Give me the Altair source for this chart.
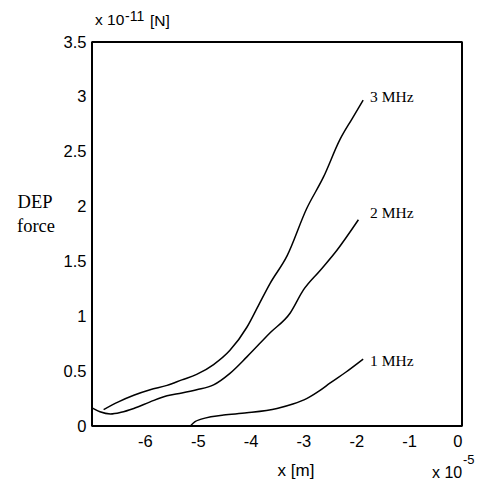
import altair as alt
import pandas as pd

# Dielectrophoretic force along x for three excitation frequencies
x_3mhz = [-6.78, -6.5, -6.21, -5.9, -5.58, -5.3, -5.02, -4.70, -4.39, -4.07, -3.85,
          -3.63, -3.31, -2.94, -2.62, -2.31, -2.08, -1.87]
f_3mhz = [0.15, 0.22, 0.28, 0.33, 0.37, 0.42, 0.47, 0.56, 0.69, 0.90, 1.10,
          1.30, 1.55, 1.98, 2.27, 2.61, 2.80, 2.97]

x_2mhz = [-7.0, -6.85, -6.65, -6.45, -6.21, -5.9, -5.58, -5.3, -5.02, -4.70, -4.39,
          -4.07, -3.63, -3.25, -3.0, -2.68, -2.37, -1.96]
f_2mhz = [0.165, 0.13, 0.11, 0.125, 0.16, 0.22, 0.275, 0.30, 0.33, 0.375, 0.48,
          0.63, 0.85, 1.03, 1.24, 1.42, 1.60, 1.88]

x_1mhz = [-5.14, -5.05, -4.95, -4.75, -4.51, -4.07, -3.50, -3.2, -2.94, -2.70,
          -2.50, -2.2, -1.87]
f_1mhz = [0.0, 0.04, 0.06, 0.085, 0.10, 0.12, 0.16, 0.20, 0.25, 0.32,
          0.39, 0.49, 0.61]

curve_names = ["3 MHz", "2 MHz", "1 MHz"]
label_x = [-1.74, -1.74, -1.74]
label_y = [3.0, 1.94, 0.59]

x_domain = [-7, 0]
y_domain = [0, 3.5]
x_ticks = [-6, -5, -4, -3, -2, -1, 0]
y_ticks = [0, 0.5, 1, 1.5, 2, 2.5, 3, 3.5]

rows = []
for name, xs, fs in zip(curve_names, [x_3mhz, x_2mhz, x_1mhz], [f_3mhz, f_2mhz, f_1mhz]):
    for i, (xv, fv) in enumerate(zip(xs, fs)):
        rows.append({"curve": name, "order": i, "x": xv, "f": fv})
df = pd.DataFrame(rows)
labels = pd.DataFrame({"curve": curve_names, "x": label_x, "f": label_y})

# the four sides of the axes box, from the axis limits
x0, x1 = x_domain
y0, y1 = y_domain
box = pd.DataFrame({
    "x": [x0, x0, x0, x1],
    "x2": [x1, x1, x0, x1],
    "f": [y0, y1, y0, y0],
    "f2": [y0, y1, y1, y1],
})

W, H = 370, 384
xscale = alt.Scale(domain=x_domain, nice=False, zero=False)
yscale = alt.Scale(domain=y_domain, nice=False, zero=False)

xaxis = alt.Axis(values=x_ticks, title=None, domain=False, ticks=False,
                 grid=False, labelFont="Liberation Sans", labelFontSize=16.5,
                 labelColor="black", labelPadding=7, labelExpr="datum.value + ''")
yaxis = alt.Axis(values=y_ticks, title=None, domain=False, ticks=False,
                 grid=False, labelFont="Liberation Sans", labelFontSize=16.5,
                 labelColor="black", labelPadding=6, labelExpr="datum.value + ''")

frame = alt.Chart(box).mark_rule(color="black", strokeWidth=2).encode(
    x=alt.X("x:Q", scale=xscale, axis=xaxis),
    x2="x2:Q",
    y=alt.Y("f:Q", scale=yscale, axis=yaxis),
    y2="f2:Q",
)

lines = alt.Chart(df).mark_line(color="black", strokeWidth=1.5, interpolate="monotone").encode(
    x=alt.X("x:Q", scale=xscale, axis=xaxis),
    y=alt.Y("f:Q", scale=yscale, axis=yaxis),
    detail="curve:N",
    order="order:Q",
)

curve_labels = alt.Chart(labels).mark_text(
    align="left", baseline="middle", font="Liberation Serif", fontSize=15.5, color="black"
).encode(x="x:Q", y="f:Q", text="curve:N")


def note(text, x, y, size, font="Liberation Sans", align="left", baseline="alphabetic"):
    return alt.Chart(pd.DataFrame({"t": [text]})).mark_text(
        align=align, baseline=baseline, font=font, fontSize=size, color="black"
    ).encode(x=alt.value(x), y=alt.value(y), text="t:N")


annotations = [
    note("x 10", 3, -17, 15.5),
    note("-11", 33, -21, 14),
    note("[N]", 58, -16, 15.5),
    note("x [m]", 204, H + 50, 17, align="center"),
    note("x 10", 340, H + 52, 16),
    note("-5", 371, H + 38, 13),
    note("DEP", -57, 166, 18.5, font="Liberation Serif", align="center"),
    note("force", -56, 190, 18.5, font="Liberation Serif", align="center"),
]

chart = alt.layer(frame, lines, curve_labels, *annotations).properties(
    width=W, height=H,
    background="white",
    autosize=alt.AutoSizeParams(type="none"),
    padding={"left": 92, "top": 42, "right": 25, "bottom": 60},
).configure_view(stroke="black", strokeWidth=1.5)

chart.save("out.html", embed_options={"renderer": "svg", "actions": False})
